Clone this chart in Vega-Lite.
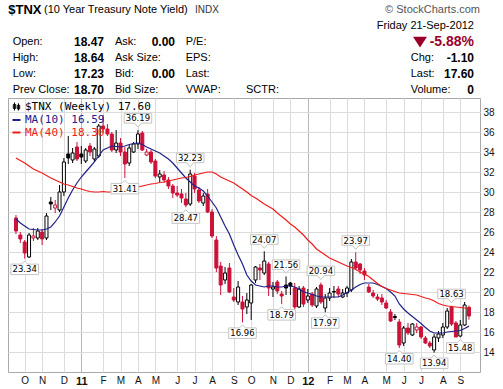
{
  "$schema": "https://vega.github.io/schema/vega-lite/v6.json",
  "width": 472,
  "height": 274,
  "autosize": {"type": "none"},
  "padding": {"left": 8, "top": 98, "right": 23, "bottom": 17},
  "background": "white",
  "config": {
    "font": "Liberation Sans",
    "view": {"stroke": "#a9a9a9", "strokeWidth": 1},
    "axis": {"labelOverlap": false, "labelSeparation": 0},
    "axisY": {"labelOverlap": false},
    "axisRight": {"labelOverlap": false}
  },
  "datasets": {
    "w": [
      {"date":"2010-09-20","o":27.4,"h":27.7,"l":25.8,"c":26.1,"ma10":27.3,"ma40":33.4},
      {"date":"2010-09-27","o":25.7,"h":26.0,"l":24.9,"c":25.3,"ma10":26.9,"ma40":33.15},
      {"date":"2010-10-04","o":25.0,"h":25.2,"l":23.34,"c":23.9,"ma10":26.6,"ma40":32.9},
      {"date":"2010-10-11","o":23.5,"h":25.9,"l":23.4,"c":25.7,"ma10":26.3,"ma40":32.6},
      {"date":"2010-10-18","o":25.4,"h":26.4,"l":25.1,"c":25.6,"ma10":26.25,"ma40":32.3},
      {"date":"2010-10-25","o":25.4,"h":26.4,"l":25.2,"c":26.1,"ma10":26.2,"ma40":32.1},
      {"date":"2010-11-01","o":26.0,"h":26.3,"l":24.7,"c":25.3,"ma10":26.2,"ma40":31.9},
      {"date":"2010-11-08","o":25.4,"h":27.9,"l":25.2,"c":27.6,"ma10":26.3,"ma40":31.65},
      {"date":"2010-11-15","o":29.0,"h":29.5,"l":28.2,"c":28.8,"ma10":26.5,"ma40":31.4},
      {"date":"2010-11-22","o":28.4,"h":29.2,"l":27.9,"c":28.7,"ma10":27.0,"ma40":31.2},
      {"date":"2010-11-29","o":28.2,"h":30.7,"l":28.0,"c":30.0,"ma10":27.6,"ma40":31.0},
      {"date":"2010-12-06","o":30.0,"h":33.4,"l":29.6,"c":33.0,"ma10":28.5,"ma40":30.8},
      {"date":"2010-12-13","o":33.8,"h":35.6,"l":32.8,"c":33.4,"ma10":29.4,"ma40":30.7},
      {"date":"2010-12-20","o":33.2,"h":34.4,"l":32.9,"c":33.9,"ma10":30.2,"ma40":30.55},
      {"date":"2010-12-27","o":34.5,"h":35.0,"l":33.1,"c":33.3,"ma10":30.9,"ma40":30.4},
      {"date":"2011-01-03","o":33.8,"h":34.6,"l":32.8,"c":33.5,"ma10":31.5,"ma40":30.3},
      {"date":"2011-01-10","o":33.1,"h":34.4,"l":32.9,"c":34.2,"ma10":32.0,"ma40":30.15},
      {"date":"2011-01-17","o":34.6,"h":34.9,"l":33.6,"c":34.0,"ma10":32.5,"ma40":30.05},
      {"date":"2011-01-24","o":33.3,"h":34.5,"l":33.0,"c":34.3,"ma10":33.0,"ma40":30.0},
      {"date":"2011-01-31","o":33.6,"h":36.8,"l":33.4,"c":36.6,"ma10":33.6,"ma40":30.0},
      {"date":"2011-02-07","o":36.6,"h":37.7,"l":35.9,"c":36.3,"ma10":34.2,"ma40":30.05},
      {"date":"2011-02-14","o":36.3,"h":36.8,"l":35.6,"c":35.8,"ma10":34.4,"ma40":30.0},
      {"date":"2011-02-21","o":35.8,"h":36.0,"l":34.0,"c":34.2,"ma10":34.6,"ma40":30.0},
      {"date":"2011-02-28","o":34.2,"h":36.2,"l":33.9,"c":34.9,"ma10":34.55,"ma40":30.1},
      {"date":"2011-03-07","o":34.9,"h":35.4,"l":33.6,"c":34.0,"ma10":34.5,"ma40":30.2},
      {"date":"2011-03-14","o":34.0,"h":34.5,"l":31.41,"c":32.8,"ma10":34.6,"ma40":30.3},
      {"date":"2011-03-21","o":32.9,"h":34.7,"l":32.6,"c":34.4,"ma10":34.75,"ma40":30.35},
      {"date":"2011-03-28","o":34.0,"h":35.0,"l":33.9,"c":34.8,"ma10":34.85,"ma40":30.4},
      {"date":"2011-04-04","o":34.8,"h":36.19,"l":34.3,"c":35.8,"ma10":34.9,"ma40":30.5},
      {"date":"2011-04-11","o":35.9,"h":36.1,"l":34.1,"c":34.2,"ma10":34.75,"ma40":30.6},
      {"date":"2011-04-18","o":33.7,"h":34.3,"l":33.6,"c":34.0,"ma10":34.5,"ma40":30.7},
      {"date":"2011-04-25","o":34.0,"h":34.2,"l":32.8,"c":33.0,"ma10":34.3,"ma40":30.8},
      {"date":"2011-05-02","o":33.1,"h":33.3,"l":31.4,"c":31.6,"ma10":34.1,"ma40":30.85},
      {"date":"2011-05-09","o":31.5,"h":32.2,"l":31.0,"c":31.8,"ma10":33.9,"ma40":30.95},
      {"date":"2011-05-16","o":31.7,"h":32.1,"l":30.9,"c":31.2,"ma10":33.6,"ma40":31.0},
      {"date":"2011-05-23","o":31.2,"h":31.5,"l":30.3,"c":30.6,"ma10":33.3,"ma40":31.1},
      {"date":"2011-05-30","o":30.6,"h":30.8,"l":29.4,"c":29.9,"ma10":32.9,"ma40":31.2},
      {"date":"2011-06-06","o":29.9,"h":30.6,"l":29.5,"c":29.7,"ma10":32.4,"ma40":31.3},
      {"date":"2011-06-13","o":29.8,"h":30.3,"l":28.9,"c":29.4,"ma10":31.9,"ma40":31.4},
      {"date":"2011-06-20","o":29.3,"h":29.9,"l":28.47,"c":28.7,"ma10":31.4,"ma40":31.45},
      {"date":"2011-06-27","o":28.8,"h":32.23,"l":28.6,"c":31.8,"ma10":31.0,"ma40":31.55},
      {"date":"2011-07-04","o":31.6,"h":31.9,"l":29.9,"c":30.3,"ma10":30.6,"ma40":31.7},
      {"date":"2011-07-11","o":30.2,"h":30.5,"l":28.9,"c":29.1,"ma10":30.4,"ma40":31.8},
      {"date":"2011-07-18","o":28.9,"h":29.9,"l":28.6,"c":29.6,"ma10":30.1,"ma40":31.9},
      {"date":"2011-07-25","o":29.8,"h":30.3,"l":27.9,"c":28.0,"ma10":29.6,"ma40":32.0},
      {"date":"2011-08-01","o":28.0,"h":28.3,"l":25.4,"c":25.6,"ma10":29.0,"ma40":32.0},
      {"date":"2011-08-08","o":25.2,"h":25.6,"l":22.0,"c":22.4,"ma10":28.4,"ma40":31.8},
      {"date":"2011-08-15","o":22.6,"h":23.0,"l":19.7,"c":20.7,"ma10":27.5,"ma40":31.5},
      {"date":"2011-08-22","o":21.2,"h":22.5,"l":20.8,"c":21.9,"ma10":26.6,"ma40":31.3},
      {"date":"2011-08-29","o":22.4,"h":22.9,"l":19.9,"c":20.0,"ma10":25.8,"ma40":31.1},
      {"date":"2011-09-05","o":19.5,"h":20.4,"l":19.0,"c":19.2,"ma10":24.7,"ma40":30.9},
      {"date":"2011-09-12","o":19.0,"h":21.1,"l":18.7,"c":20.5,"ma10":23.7,"ma40":30.6},
      {"date":"2011-09-19","o":19.0,"h":19.6,"l":16.96,"c":18.3,"ma10":22.8,"ma40":30.3},
      {"date":"2011-09-26","o":18.5,"h":19.9,"l":17.8,"c":19.2,"ma10":21.7,"ma40":30.0},
      {"date":"2011-10-03","o":18.9,"h":20.8,"l":17.2,"c":20.7,"ma10":21.1,"ma40":29.65},
      {"date":"2011-10-10","o":21.2,"h":22.6,"l":20.9,"c":22.5,"ma10":20.7,"ma40":29.4},
      {"date":"2011-10-17","o":22.4,"h":22.8,"l":21.2,"c":22.2,"ma10":20.6,"ma40":29.1},
      {"date":"2011-10-24","o":21.9,"h":24.07,"l":21.7,"c":23.1,"ma10":20.5,"ma40":28.8},
      {"date":"2011-10-31","o":22.8,"h":23.0,"l":19.6,"c":20.4,"ma10":20.6,"ma40":28.55},
      {"date":"2011-11-07","o":20.3,"h":21.0,"l":19.5,"c":20.5,"ma10":20.6,"ma40":28.3},
      {"date":"2011-11-14","o":21.0,"h":21.2,"l":19.8,"c":20.1,"ma10":20.5,"ma40":27.9},
      {"date":"2011-11-21","o":19.8,"h":20.1,"l":18.79,"c":19.6,"ma10":20.5,"ma40":27.55},
      {"date":"2011-11-28","o":20.7,"h":21.56,"l":19.7,"c":20.4,"ma10":20.6,"ma40":27.2},
      {"date":"2011-12-05","o":20.9,"h":21.0,"l":19.7,"c":20.6,"ma10":20.6,"ma40":26.8},
      {"date":"2011-12-12","o":20.4,"h":20.9,"l":18.3,"c":18.5,"ma10":20.5,"ma40":26.5},
      {"date":"2011-12-19","o":18.5,"h":20.6,"l":18.4,"c":20.3,"ma10":20.3,"ma40":26.1},
      {"date":"2011-12-26","o":20.4,"h":20.6,"l":18.5,"c":18.8,"ma10":20.0,"ma40":25.7},
      {"date":"2012-01-02","o":19.2,"h":20.3,"l":18.9,"c":19.6,"ma10":19.9,"ma40":25.2},
      {"date":"2012-01-09","o":19.8,"h":20.0,"l":18.5,"c":18.7,"ma10":19.75,"ma40":24.8},
      {"date":"2012-01-16","o":18.6,"h":20.5,"l":18.4,"c":20.3,"ma10":19.6,"ma40":24.3},
      {"date":"2012-01-23","o":20.7,"h":20.94,"l":18.8,"c":19.0,"ma10":19.5,"ma40":24.0},
      {"date":"2012-01-30","o":18.4,"h":19.8,"l":17.97,"c":19.4,"ma10":19.5,"ma40":23.7},
      {"date":"2012-02-06","o":19.4,"h":20.4,"l":19.1,"c":19.9,"ma10":19.5,"ma40":23.4},
      {"date":"2012-02-13","o":20.05,"h":20.6,"l":19.4,"c":20.0,"ma10":19.5,"ma40":23.2},
      {"date":"2012-02-20","o":20.3,"h":20.6,"l":19.5,"c":19.8,"ma10":19.5,"ma40":23.0},
      {"date":"2012-02-27","o":19.5,"h":20.3,"l":19.4,"c":19.9,"ma10":19.7,"ma40":22.8},
      {"date":"2012-03-05","o":19.9,"h":20.6,"l":19.5,"c":20.4,"ma10":19.95,"ma40":22.6},
      {"date":"2012-03-12","o":20.2,"h":23.3,"l":20.0,"c":23.0,"ma10":20.2,"ma40":22.45},
      {"date":"2012-03-19","o":23.0,"h":23.97,"l":22.2,"c":22.4,"ma10":20.5,"ma40":22.25},
      {"date":"2012-03-26","o":22.8,"h":22.9,"l":21.8,"c":22.2,"ma10":20.75,"ma40":22.0},
      {"date":"2012-04-02","o":22.1,"h":22.4,"l":21.2,"c":21.7,"ma10":20.9,"ma40":21.8},
      {"date":"2012-04-09","o":20.5,"h":20.8,"l":19.9,"c":20.0,"ma10":20.9,"ma40":21.55},
      {"date":"2012-04-16","o":19.9,"h":20.2,"l":19.4,"c":19.6,"ma10":20.9,"ma40":21.2},
      {"date":"2012-04-23","o":19.5,"h":19.8,"l":19.1,"c":19.3,"ma10":20.75,"ma40":20.85},
      {"date":"2012-04-30","o":19.4,"h":19.8,"l":18.7,"c":19.0,"ma10":20.55,"ma40":20.55},
      {"date":"2012-05-07","o":18.9,"h":19.2,"l":18.3,"c":18.4,"ma10":20.35,"ma40":20.35},
      {"date":"2012-05-14","o":18.0,"h":18.3,"l":17.0,"c":17.1,"ma10":20.0,"ma40":20.2},
      {"date":"2012-05-21","o":17.55,"h":17.8,"l":17.2,"c":17.45,"ma10":19.6,"ma40":20.05},
      {"date":"2012-05-28","o":17.0,"h":17.3,"l":14.4,"c":14.7,"ma10":18.8,"ma40":19.9},
      {"date":"2012-06-04","o":14.9,"h":16.6,"l":14.6,"c":16.4,"ma10":18.3,"ma40":19.85},
      {"date":"2012-06-11","o":16.4,"h":16.9,"l":15.7,"c":15.9,"ma10":17.9,"ma40":19.8},
      {"date":"2012-06-18","o":15.7,"h":16.9,"l":15.6,"c":16.8,"ma10":17.55,"ma40":19.75},
      {"date":"2012-06-25","o":16.2,"h":16.9,"l":15.9,"c":16.5,"ma10":17.2,"ma40":19.7},
      {"date":"2012-07-02","o":16.5,"h":16.6,"l":15.3,"c":15.5,"ma10":16.85,"ma40":19.55},
      {"date":"2012-07-09","o":15.4,"h":15.6,"l":14.8,"c":14.9,"ma10":16.45,"ma40":19.4},
      {"date":"2012-07-16","o":14.9,"h":15.1,"l":14.4,"c":14.6,"ma10":16.1,"ma40":19.3},
      {"date":"2012-07-23","o":14.2,"h":15.8,"l":13.94,"c":15.5,"ma10":15.9,"ma40":19.1},
      {"date":"2012-07-30","o":15.4,"h":16.1,"l":15.0,"c":15.8,"ma10":15.9,"ma40":18.85},
      {"date":"2012-08-06","o":15.7,"h":16.9,"l":15.4,"c":16.5,"ma10":15.9,"ma40":18.7},
      {"date":"2012-08-13","o":16.5,"h":18.4,"l":16.3,"c":18.1,"ma10":16.0,"ma40":18.6},
      {"date":"2012-08-20","o":18.5,"h":18.63,"l":16.6,"c":16.8,"ma10":16.05,"ma40":18.55},
      {"date":"2012-08-27","o":16.9,"h":17.1,"l":15.5,"c":15.5,"ma10":16.1,"ma40":18.5},
      {"date":"2012-09-03","o":15.6,"h":17.2,"l":15.48,"c":16.7,"ma10":16.15,"ma40":18.45},
      {"date":"2012-09-10","o":16.7,"h":19.0,"l":16.6,"c":18.7,"ma10":16.35,"ma40":18.4},
      {"date":"2012-09-17","o":18.47,"h":18.64,"l":17.23,"c":17.6,"ma10":16.59,"ma40":18.3}
    ],
    "hi": [
      {"date":"2011-04-04","v":36.19},
      {"date":"2011-06-27","v":32.23},
      {"date":"2011-10-24","v":24.07},
      {"date":"2011-11-28","v":21.56},
      {"date":"2012-01-23","v":20.94},
      {"date":"2012-03-19","v":23.97},
      {"date":"2012-08-20","v":18.63}
    ],
    "lo": [
      {"date":"2010-10-04","v":23.34},
      {"date":"2011-03-14","v":31.41},
      {"date":"2011-06-20","v":28.47},
      {"date":"2011-09-19","v":16.96},
      {"date":"2011-11-21","v":18.79},
      {"date":"2012-01-30","v":17.97},
      {"date":"2012-05-28","v":14.40},
      {"date":"2012-07-23","v":13.94},
      {"date":"2012-09-03","v":15.48}
    ],
    "hdr": [
      {"row":0,"col":0,"k":"sym","t":"$TNX"},
      {"row":0,"col":2,"k":"name","t":"(10 Year Treasury Note Yield)"},
      {"row":0,"col":7,"k":"exch","t":"INDX"},
      {"row":0,"col":12,"k":"credit","t":"© StockCharts.com"},
      {"row":1,"col":11,"k":"date","t":"Friday  21-Sep-2012"},
      {"row":2,"col":1,"k":"label","t":"Open:"},
      {"row":2,"col":3,"k":"value","t":"18.47"},
      {"row":2,"col":4,"k":"label","t":"Ask:"},
      {"row":2,"col":5,"k":"value","t":"0.00"},
      {"row":2,"col":6,"k":"label","t":"P/E:"},
      {"row":2,"col":10,"k":"arrow","t":""},
      {"row":2,"col":11,"k":"pct","t":"-5.88%"},
      {"row":3,"col":1,"k":"label","t":"High:"},
      {"row":3,"col":3,"k":"value","t":"18.64"},
      {"row":3,"col":4,"k":"label","t":"Ask Size:"},
      {"row":3,"col":6,"k":"label","t":"EPS:"},
      {"row":3,"col":9,"k":"label","t":"Chg:"},
      {"row":3,"col":11,"k":"value","t":"-1.10"},
      {"row":4,"col":1,"k":"label","t":"Low:"},
      {"row":4,"col":3,"k":"value","t":"17.23"},
      {"row":4,"col":4,"k":"label","t":"Bid:"},
      {"row":4,"col":5,"k":"value","t":"0.00"},
      {"row":4,"col":6,"k":"label","t":"Last:"},
      {"row":4,"col":9,"k":"label","t":"Last:"},
      {"row":4,"col":11,"k":"value","t":"17.60"},
      {"row":5,"col":1,"k":"label","t":"Prev Close:"},
      {"row":5,"col":3,"k":"value","t":"18.70"},
      {"row":5,"col":4,"k":"label","t":"Bid Size:"},
      {"row":5,"col":6,"k":"label","t":"VWAP:"},
      {"row":5,"col":8,"k":"label","t":"SCTR:"},
      {"row":5,"col":9,"k":"label","t":"Volume:"},
      {"row":5,"col":11,"k":"value","t":"0"}
    ]
  },
  "resolve": {"scale": {"x": "independent", "y": "independent"}},
  "layer": [
    {
      "data": {"name": "w"},
      "transform": [
        {"window": [{"op": "lag", "field": "c", "as": "pc"}], "sort": [{"field": "date", "order": "ascending"}]}
      ],
      "encoding": {
        "x": {
          "field": "date", "type": "temporal",
          "scale": {"type": "utc", "domain": [
            {"year": 2010, "month": 9, "date": 15, "hours": 5, "utc": true},
            {"year": 2012, "month": 9, "date": 26, "hours": 16, "minutes": 17, "utc": true}
          ]},
          "axis": {
            "orient": "bottom", "title": null,
            "values": [
              {"year":2010,"month":10,"date":4,"utc":true},
              {"year":2010,"month":11,"date":1,"utc":true},
              {"year":2010,"month":12,"date":6,"utc":true},
              {"year":2011,"month":1,"date":3,"utc":true},
              {"year":2011,"month":2,"date":7,"utc":true},
              {"year":2011,"month":3,"date":7,"utc":true},
              {"year":2011,"month":4,"date":4,"utc":true},
              {"year":2011,"month":5,"date":2,"utc":true},
              {"year":2011,"month":6,"date":6,"utc":true},
              {"year":2011,"month":7,"date":4,"utc":true},
              {"year":2011,"month":8,"date":1,"utc":true},
              {"year":2011,"month":9,"date":5,"utc":true},
              {"year":2011,"month":10,"date":3,"utc":true},
              {"year":2011,"month":11,"date":7,"utc":true},
              {"year":2011,"month":12,"date":5,"utc":true},
              {"year":2012,"month":1,"date":2,"utc":true},
              {"year":2012,"month":2,"date":6,"utc":true},
              {"year":2012,"month":3,"date":5,"utc":true},
              {"year":2012,"month":4,"date":2,"utc":true},
              {"year":2012,"month":5,"date":7,"utc":true},
              {"year":2012,"month":6,"date":4,"utc":true},
              {"year":2012,"month":7,"date":2,"utc":true},
              {"year":2012,"month":8,"date":6,"utc":true},
              {"year":2012,"month":9,"date":3,"utc":true}
            ],
            "labelExpr": "utcmonth(datum.value) === 0 ? utcFormat(datum.value, '%y') : slice(utcFormat(datum.value, '%b'), 0, 1)",
            "grid": true,
            "gridColor": {"condition": {"test": "utcmonth(datum.value) === 0", "value": "#b8b8b8"}, "value": "#dcdcdc"},
            "domain": false, "ticks": false,
            "labelPadding": 3,
            "labelFontSize": {"condition": {"test": "utcmonth(datum.value) === 0", "value": 11}, "value": 10},
            "labelFontWeight": {"condition": {"test": "utcmonth(datum.value) === 0", "value": "bold"}, "value": "normal"},
            "labelColor": "#111111",
            "labelFlush": false, "labelOverlap": false
          }
        }
      },
      "layer": [
        {
          "mark": {"type": "rule", "strokeWidth": 1},
          "encoding": {
            "y": {"field": "l", "type": "quantitative", "title": null,
              "scale": {"domain": [12, 39.4], "nice": false, "zero": false},
              "axis": {"orient": "right", "title": null, "values": [14,16,18,20,22,24,26,28,30,32,34,36,38],
                "tickCount": 13,
                "grid": true, "gridColor": "#dcdcdc", "domain": false, "ticks": false,
                "labelPadding": 3, "labelFontSize": 10, "labelColor": "#111111",
                "labelOverlap": false, "labelFlush": false, "labelBound": false}},
            "y2": {"field": "h"},
            "stroke": {"condition": {"test": "datum.pc == null || datum.c < datum.pc", "value": "#cc1138"}, "value": "#000000"}
          }
        },
        {
          "mark": {"type": "bar", "size": 3, "strokeWidth": 1},
          "encoding": {
            "y": {"field": "o", "type": "quantitative", "title": null, "scale": {"domain": [12, 39.4], "nice": false, "zero": false}},
            "y2": {"field": "c"},
            "fill": {"condition": [
              {"test": "datum.c > datum.o", "value": "#ffffff"},
              {"test": "datum.pc == null || datum.c < datum.pc", "value": "#cc1138"}
            ], "value": "#000000"},
            "stroke": {"condition": {"test": "datum.pc == null || datum.c < datum.pc", "value": "#cc1138"}, "value": "#000000"}
          }
        },
        {
          "mark": {"type": "line", "strokeWidth": 1.2},
          "encoding": {
            "y": {"field": "ma10", "type": "quantitative", "title": null, "scale": {"domain": [12, 39.4], "nice": false, "zero": false}},
            "color": {
              "datum": "MA(10) 16.59",
              "scale": {"domain": ["$TNX (Weekly) 17.60", "MA(10) 16.59", "MA(40) 18.30"], "range": ["#000000", "#20208a", "#ee1c1c"]},
              "legend": {
                "title": null, "orient": "top-left", "offset": 3, "padding": 0, "rowPadding": 0.5,
                "symbolType": "stroke", "symbolSize": 64, "symbolStrokeWidth": 2,
                "labelFont": "DejaVu Sans Mono", "labelFontSize": 11, "labelOffset": 3,
                "encode": {
                  "labels": {"update": {"fill": {"signal": "datum.value === 'MA(10) 16.59' ? '#20208a' : datum.value === 'MA(40) 18.30' ? '#ee1c1c' : '#000000'"}}},
                  "symbols": {"update": {
                    "shape": {"signal": "datum.value === '$TNX (Weekly) 17.60' ? 'M-0.5,-1V1M-0.8,-0.5H-0.2V0.5H-0.8ZM0.5,-0.8V1M0.2,-0.3H0.8V0.6H0.2Z' : 'stroke'"},
                    "strokeWidth": {"signal": "datum.value === '$TNX (Weekly) 17.60' ? 1 : 2"}
                  }}
                }
              }
            }
          }
        },
        {
          "mark": {"type": "line", "strokeWidth": 1.2},
          "encoding": {
            "y": {"field": "ma40", "type": "quantitative", "title": null, "scale": {"domain": [12, 39.4], "nice": false, "zero": false}},
            "color": {"datum": "MA(40) 18.30"}
          }
        },
        {
          "data": {"name": "hi"},
          "mark": {"type": "point", "shape": "M0,-0.3L0.35,-0.7H1.38V-1.65H-1.38V-0.7H-0.35Z", "size": 400, "filled": true, "fill": "#ffffff", "stroke": "#c4c4c4", "strokeWidth": 1, "opacity": 1},
          "encoding": {"y": {"field": "v", "type": "quantitative", "title": null, "scale": {"domain": [12, 39.4], "nice": false, "zero": false}}}
        },
        {
          "data": {"name": "hi"},
          "mark": {"type": "text", "dy": -11.7, "font": "DejaVu Sans", "fontSize": 8.5, "baseline": "middle", "color": "#000000"},
          "encoding": {
            "y": {"field": "v", "type": "quantitative", "title": null, "scale": {"domain": [12, 39.4], "nice": false, "zero": false}},
            "text": {"field": "v", "type": "quantitative", "format": ".2f"}
          }
        },
        {
          "data": {"name": "lo"},
          "mark": {"type": "point", "shape": "M0,0.25L0.3,0.55H1.38V1.6H-1.38V0.55H-0.3Z", "size": 400, "filled": true, "fill": "#ffffff", "stroke": "#c4c4c4", "strokeWidth": 1, "opacity": 1},
          "encoding": {"y": {"field": "v", "type": "quantitative", "title": null, "scale": {"domain": [12, 39.4], "nice": false, "zero": false}}}
        },
        {
          "data": {"name": "lo"},
          "mark": {"type": "text", "dy": 10.8, "font": "DejaVu Sans", "fontSize": 8.5, "baseline": "middle", "color": "#000000"},
          "encoding": {
            "y": {"field": "v", "type": "quantitative", "title": null, "scale": {"domain": [12, 39.4], "nice": false, "zero": false}},
            "text": {"field": "v", "type": "quantitative", "format": ".2f"}
          }
        }
      ]
    },
    {
      "data": {"name": "hdr"},
      "encoding": {
        "x": {"field": "col", "type": "quantitative", "axis": null,
          "scale": {"domain": [0,1,2,3,4,5,6,7,8,9,10,11,12], "range": [0.3,4.7,36,96,107,167,177.7,187,238,402.7,412,466,472], "nice": false, "zero": false}},
        "y": {"field": "row", "type": "quantitative", "axis": null,
          "scale": {"domain": [0,5], "range": [-88,-8], "nice": false, "zero": false}}
      },
      "layer": [
        {
          "data": {"values": [{"box": "info"}]},
          "mark": {"type": "rect", "fill": null, "stroke": "#a9a9a9", "strokeWidth": 1},
          "encoding": {"x": {"datum": 0}, "x2": {"datum": 12}, "y": {"datum": 0.5}, "y2": {"datum": 5.5}}
        },
        {
          "transform": [{"filter": "datum.k === 'sym'"}],
          "mark": {"type": "text", "align": "left", "baseline": "middle", "fontSize": 13, "fontWeight": "bold", "color": "#000000"},
          "encoding": {"text": {"field": "t", "type": "nominal"}}
        },
        {
          "transform": [{"filter": "datum.k === 'name'"}],
          "mark": {"type": "text", "align": "left", "baseline": "middle", "fontSize": 11, "color": "#000000"},
          "encoding": {"text": {"field": "t", "type": "nominal"}}
        },
        {
          "transform": [{"filter": "datum.k === 'exch'"}],
          "mark": {"type": "text", "align": "left", "baseline": "middle", "fontSize": 10, "color": "#333333"},
          "encoding": {"text": {"field": "t", "type": "nominal"}}
        },
        {
          "transform": [{"filter": "datum.k === 'credit'"}],
          "mark": {"type": "text", "align": "right", "baseline": "middle", "fontSize": 11, "color": "#555555"},
          "encoding": {"text": {"field": "t", "type": "nominal"}}
        },
        {
          "transform": [{"filter": "datum.k === 'date'"}],
          "mark": {"type": "text", "align": "right", "baseline": "middle", "fontSize": 11, "color": "#000000"},
          "encoding": {"text": {"field": "t", "type": "nominal"}}
        },
        {
          "transform": [{"filter": "datum.k === 'label'"}],
          "mark": {"type": "text", "align": "left", "baseline": "middle", "fontSize": 11, "color": "#000000"},
          "encoding": {"text": {"field": "t", "type": "nominal"}}
        },
        {
          "transform": [{"filter": "datum.k === 'value'"}],
          "mark": {"type": "text", "align": "right", "baseline": "middle", "fontSize": 12, "fontWeight": "bold", "color": "#000000"},
          "encoding": {"text": {"field": "t", "type": "nominal"}}
        },
        {
          "transform": [{"filter": "datum.k === 'pct'"}],
          "mark": {"type": "text", "align": "right", "baseline": "middle", "fontSize": 14, "fontWeight": "bold", "color": "#990029"},
          "encoding": {"text": {"field": "t", "type": "nominal"}}
        },
        {
          "transform": [{"filter": "datum.k === 'arrow'"}],
          "mark": {"type": "point", "shape": "M-1,-0.75H1L0,0.8Z", "size": 196, "filled": true, "fill": "#990029", "strokeWidth": 0, "opacity": 1}
        }
      ]
    }
  ]
}
